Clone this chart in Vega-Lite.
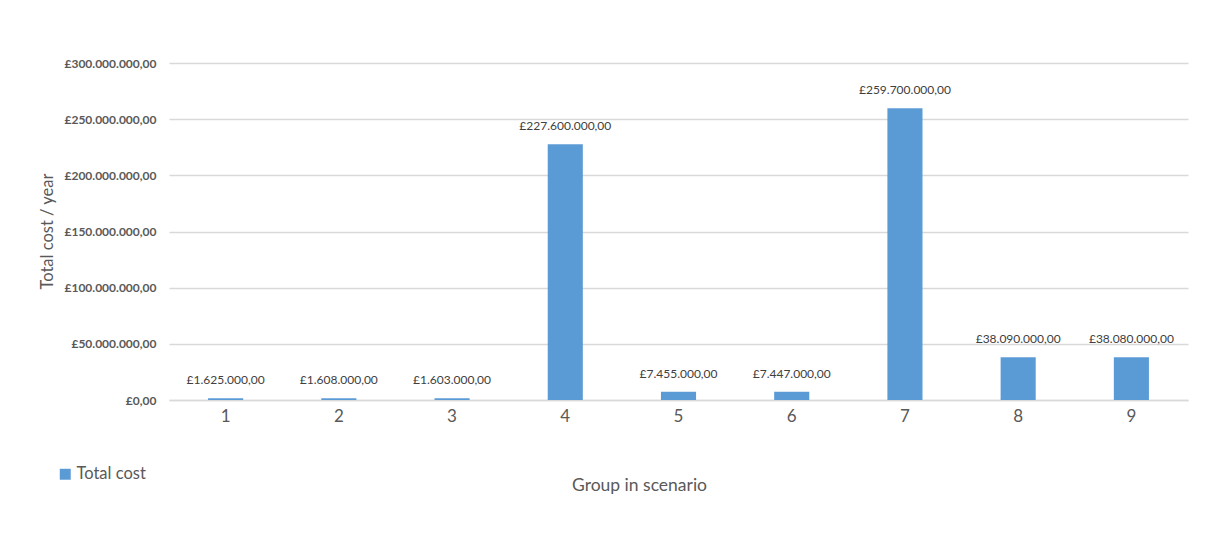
{
  "$schema": "https://vega.github.io/schema/vega-lite/v6.json",
  "width": 1019,
  "height": 337,
  "autosize": {"type": "none"},
  "padding": {"left": 169, "top": 63, "right": 31, "bottom": 133},
  "background": "white",
  "config": {
    "font": "Lato",
    "view": {"stroke": null},
    "locale": {"number": {"decimal": ",", "thousands": ".", "grouping": [3], "currency": ["£", ""]}}
  },
  "data": {"values": [
    {"group": "1", "cost": 1625000, "series": "Total cost"},
    {"group": "2", "cost": 1608000, "series": "Total cost"},
    {"group": "3", "cost": 1603000, "series": "Total cost"},
    {"group": "4", "cost": 227600000, "series": "Total cost"},
    {"group": "5", "cost": 7455000, "series": "Total cost"},
    {"group": "6", "cost": 7447000, "series": "Total cost"},
    {"group": "7", "cost": 259700000, "series": "Total cost"},
    {"group": "8", "cost": 38090000, "series": "Total cost"},
    {"group": "9", "cost": 38080000, "series": "Total cost"}
  ]},
  "encoding": {
    "x": {
      "field": "group", "type": "nominal", "sort": null,
      "scale": {"paddingInner": 0.69, "paddingOuter": 0.345},
      "axis": {
        "title": "Group in scenario", "titleFontSize": 17.5, "titleFontWeight": "normal", "titleColor": "#595959",
        "titleX": 470, "titleY": 85, "titleBaseline": "middle", "titleAlign": "center",
        "labelAngle": 0, "labelFontSize": 17, "labelColor": "#595959", "labelPadding": 8,
        "ticks": false, "domain": true, "domainColor": "#D9D9D9", "domainWidth": 1.5
      }
    },
    "y": {
      "field": "cost", "type": "quantitative",
      "scale": {"domain": [0, 300000000], "nice": false},
      "axis": {
        "title": "Total cost / year", "titleFontSize": 16.5, "titleFontWeight": "normal", "titleColor": "#595959",
        "titleX": -114, "titleY": 168, "titleAngle": -90, "titleAlign": "center", "titleBaseline": "bottom",
        "values": [0, 50000000, 100000000, 150000000, 200000000, 250000000, 300000000],
        "format": "$,.2f", "labelFontSize": 12, "labelFontWeight": "bold", "labelColor": "#595959", "labelPadding": 13,
        "ticks": false, "domain": false, "grid": true, "gridColor": "#D9D9D9", "gridWidth": 1.5
      }
    }
  },
  "layer": [
    {
      "mark": {"type": "bar", "color": "#5B9BD5"},
      "encoding": {
        "color": {
          "field": "series", "type": "nominal",
          "scale": {"range": ["#5B9BD5"]},
          "legend": {
            "title": null, "orient": "none", "legendX": -112, "legendY": 403,
            "symbolType": "square", "symbolSize": 120, "symbolStrokeWidth": 0,
            "labelFontSize": 16.5, "labelColor": "#595959", "labelOffset": 3
          }
        }
      }
    },
    {
      "mark": {"type": "text", "baseline": "bottom", "dy": -11, "fontSize": 12, "color": "#404040"},
      "encoding": {
        "text": {"field": "cost", "type": "quantitative", "format": "$,.2f"}
      }
    }
  ]
}
